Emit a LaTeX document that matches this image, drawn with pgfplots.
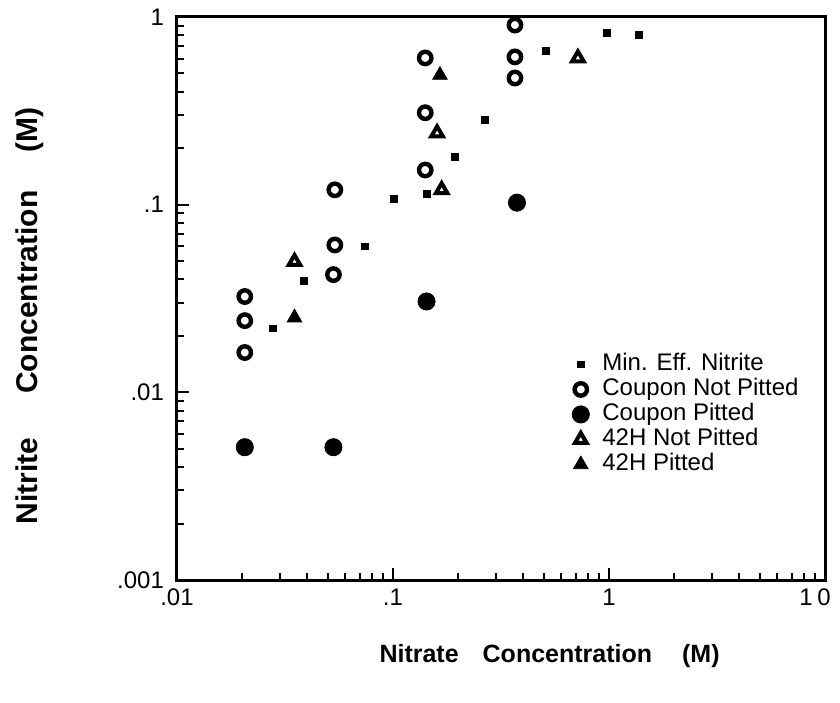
\documentclass[border=0pt]{standalone}
\usepackage{pgfplots}
\pgfplotsset{compat=1.18}
\usepackage{fontspec}
\setmainfont{Liberation Sans}
\begin{document}
\begin{tikzpicture}
\begin{axis}[
  scale only axis,
  width=324pt, height=281.5pt,
  xmode=log, ymode=log,
  xmin=0.01, xmax=10, ymin=0.001, ymax=1,
  axis line style={line width=1.5pt},
  tick style={black, line width=1pt},
  major tick length=6pt, minor tick length=3.5pt,
  tick align=inside,
  xtick pos=bottom, ytick pos=left,
  xtick={0.01,0.1,1,10}, xticklabels={.01,.1,1,{}},
  extra x ticks={10}, extra x tick labels={1\hspace{0.2em}0},
  extra x tick style={major tick length=0pt, xticklabel style={xshift=-5pt}},
  ytick={0.001,0.01,0.1,1}, yticklabels={.001,.01,.1,1},
  ticklabel style={font=\fontsize{12}{14}\selectfont},
  yticklabel style={xshift=-3pt},
  xticklabel style={yshift=-1pt},
  xlabel={\bfseries Nitrate\hspace{12pt}Concentration\hspace{15pt}(M)},
  xlabel style={font=\fontsize{12.5}{14}\selectfont, at={(axis description cs:0.575,-0.135)}, anchor=center},
  ylabel={\bfseries Nitrite\hspace{22pt}Concentration\hspace{19pt}(M)},
  ylabel style={font=\fontsize{15}{17}\selectfont, at={(axis description cs:-0.228,0.469)}, anchor=center},
  legend style={draw=none, fill=none, at={(0.6,0.412)}, anchor=north west,
    font=\fontsize{12}{13}\selectfont,
    nodes={inner sep=0.5pt, text height=8.5pt, text depth=2.5pt},
    row sep=0.5pt, column sep=6pt},
  legend cell align=left,
  legend image code/.code={\draw[#1] plot coordinates {(0pt,0pt)};},
]
\addplot[only marks, mark=square*, mark size=1.7pt, black] coordinates {
 (0.0278,0.0219) (0.0387,0.0394) (0.074,0.060) (0.101,0.107) (0.143,0.114)
 (0.194,0.180) (0.267,0.283) (0.51,0.66) (0.98,0.82) (1.38,0.80)};
\addlegendentry{Min. Eff. Nitrite}
\addplot[only marks, mark=o, mark size=3.1pt, black, line width=2.2pt] coordinates {
 (0.0206,0.0324) (0.0206,0.0241) (0.0206,0.0163) (0.0538,0.12) (0.0538,0.061)
 (0.053,0.0424) (0.141,0.605) (0.141,0.309) (0.141,0.153) (0.367,0.906)
 (0.367,0.613) (0.367,0.473)};
\addlegendentry{Coupon Not Pitted}
\addplot[only marks, mark=*, mark size=4.3pt, black] coordinates {
 (0.0206,0.0051) (0.053,0.0051) (0.143,0.0305) (0.375,0.1025)};
\addlegendentry{Coupon Pitted}
\addplot[only marks, mark=triangle, mark size=3.3pt, black, line width=2pt] coordinates {
 (0.035,0.0497) (0.16,0.241) (0.168,0.12) (0.718,0.605)};
\addlegendentry{42H Not Pitted}
\addplot[only marks, mark=triangle*, mark size=4.2pt, black] coordinates {
 (0.035,0.025) (0.165,0.49)};
\addlegendentry{42H Pitted}
\end{axis}
\pgfresetboundingbox
\path[use as bounding box] ([xshift=-88.5pt,yshift=-61pt]current axis.south west) rectangle ([xshift=7.5pt,yshift=8.5pt]current axis.north east);
\end{tikzpicture}
\end{document}
